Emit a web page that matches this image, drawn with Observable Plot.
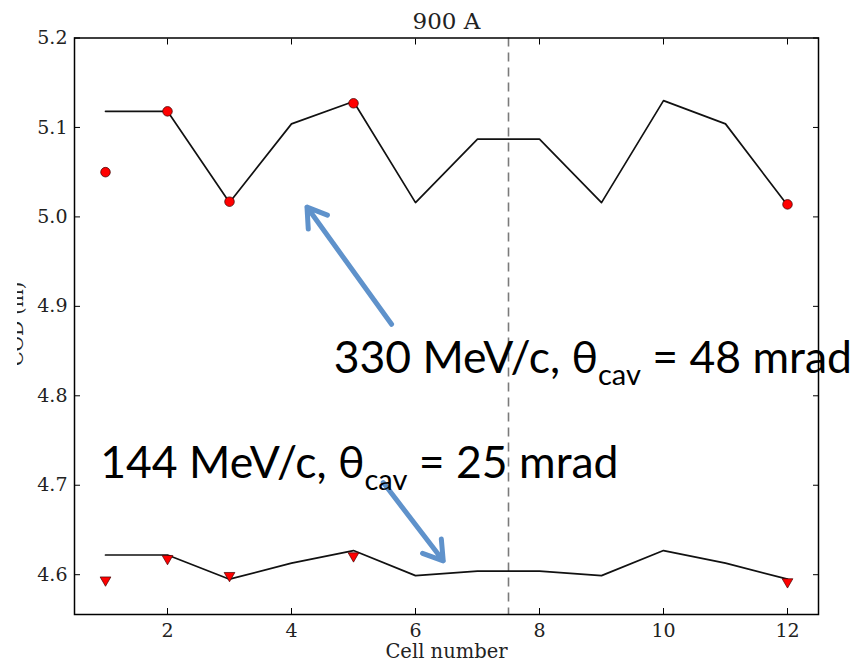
<!DOCTYPE html>
<html><head><meta charset="utf-8">
<script src="https://cdn.jsdelivr.net/npm/d3@7"></script>
<script src="https://cdn.jsdelivr.net/npm/@observablehq/plot@0.6"></script>
<style>
body{margin:0;background:#fff}
#chart{position:relative;width:860px;height:667px}
</style>
</head><body><div id="chart"></div>
<script>
// ---- data ----
const cells = [1, 2, 3, 4, 5, 6, 7, 8, 9, 10, 11, 12];
const codHighLine = [5.118, 5.118, 5.016, 5.104, 5.129, 5.016, 5.087, 5.087, 5.016, 5.130, 5.104, 5.013];
const codLowLine  = [4.622, 4.622, 4.595, 4.613, 4.627, 4.599, 4.604, 4.604, 4.599, 4.627, 4.613, 4.595];
const highPointCells  = [1, 2, 3, 5, 12];
const highPointValues = [5.050, 5.118, 5.017, 5.127, 5.014];
const lowPointCells   = [1, 2, 3, 5, 12];
const lowPointValues  = [4.594, 4.618, 4.599, 4.621, 4.592];
const splitCell = [7.5];
const xTicks = [2, 4, 6, 8, 10, 12];
const yTicks = [4.6, 4.7, 4.8, 4.9, 5.0, 5.1, 5.2];
const titleText = "900 A";
const xLabel = "Cell number";
const yLabel = "COD (m)";
// annotations (data coordinates)
const annotPre  = ["330 MeV/c, θ", "144 MeV/c, θ"];
const annotSub  = ["cav", "cav"];
const annotPost = [" = 48 mrad", " = 25 mrad"];
const annotCell = [4.68, 0.915];
const annotCod  = [4.825, 4.708];
const arrowFromCell = [5.614, 5.48];
const arrowFromCod  = [4.880, 4.703];
const arrowToCell   = [4.250, 6.447];
const arrowToCod    = [5.011, 4.6155];

// ---- tables built from the arrays ----
const hiLine = cells.map((c, i) => ({cell: c, cod: codHighLine[i]}));
const loLine = cells.map((c, i) => ({cell: c, cod: codLowLine[i]}));
const hiPts = highPointCells.map((c, i) => ({cell: c, cod: highPointValues[i]}));
const loPts = lowPointCells.map((c, i) => ({cell: c, cod: lowPointValues[i]}));
const annots = annotPre.map((p, i) => ({cell: annotCell[i], cod: annotCod[i], text: p + annotSub[i] + annotPost[i]}));
const arrows = arrowFromCell.map((c, i) => ({x1: c, y1: arrowFromCod[i], x2: arrowToCell[i], y2: arrowToCod[i]}));

const serif = "DejaVu Serif";
const plot = Plot.plot({
  width: 860, height: 667,
  marginTop: 37.5, marginRight: 42, marginBottom: 53, marginLeft: 74,
  x: {domain: [0.5, 12.5]},
  y: {domain: [4.5555, 5.2]},
  style: {fontFamily: serif, fontSize: "19px", color: "#222", background: "#fff", overflow: "visible"},
  marks: [
    Plot.ruleX(splitCell, {x: d => d, stroke: "#7a7a7a", strokeWidth: 1.6, strokeDasharray: "9,6"}),
    Plot.line(hiLine, {x: "cell", y: "cod", stroke: "#111", strokeWidth: 1.7}),
    Plot.line(loLine, {x: "cell", y: "cod", stroke: "#111", strokeWidth: 1.7}),
    Plot.dot(hiPts, {x: "cell", y: "cod", r: 4.8, fill: "#ff0000", stroke: "#330000", strokeWidth: 0.7}),
    Plot.dot(loPts, {x: "cell", y: "cod", symbol: "triangle", rotate: 180, r: 4.0, fill: "#ff0000", stroke: "#440000", strokeWidth: 0.7}),
    Plot.arrow(arrows, {x1: "x1", y1: "y1", x2: "x2", y2: "y2", stroke: "#5f92cb", strokeWidth: 5, headLength: 6.6, headAngle: 65}),
    Plot.text(annots, {x: "cell", y: "cod", text: "text", textAnchor: "start", lineAnchor: "bottom",
      fontFamily: "Lato", fontSize: 44.5, fill: "#000", className: "annot"}),
    Plot.frame({stroke: "#000", strokeWidth: 1.5}),
    Plot.axisX(xTicks, {tickSize: -6, tickPadding: 15, label: null, fontSize: 19, stroke: "#000", fill: "#222"}),
    Plot.axisX(xTicks, {anchor: "top", tickSize: -6, tickFormat: () => "", label: null, stroke: "#000"}),
    Plot.axisY(yTicks, {tickSize: -6, tickPadding: 13, label: null, tickFormat: d3.format(".1f"), fontSize: 19, stroke: "#000", fill: "#222"}),
    Plot.axisY(yTicks, {anchor: "right", tickSize: -6, tickFormat: () => "", label: null, stroke: "#000"}),
    Plot.text([titleText], {frameAnchor: "top", lineAnchor: "bottom", dy: -9, fontSize: 23, fill: "#222"}),
    Plot.text([xLabel], {frameAnchor: "bottom", lineAnchor: "bottom", dy: 43, fontSize: 19.5, fill: "#222"})
  ]
});

// subscripts for the annotation text
d3.select(plot).selectAll("g.annot text").each(function(_, i) {
  const t = d3.select(this);
  t.text(null);
  t.append("tspan").text(annotPre[i]);
  t.append("tspan").attr("font-size", 29).attr("dy", 12).text(annotSub[i]);
  t.append("tspan").attr("dy", -12).text(annotPost[i]);
});

// partially clipped y label
const svg = d3.select(plot);
svg.append("clipPath").attr("id", "ylabclip").append("rect").attr("x", 17).attr("y", 0).attr("width", 30).attr("height", 667);
svg.append("g").attr("clip-path", "url(#ylabclip)")
  .append("text")
  .attr("transform", "translate(23,324) rotate(-90)")
  .attr("text-anchor", "middle")
  .attr("font-family", serif).attr("font-size", 19).attr("fill", "#222")
  .text(yLabel);

document.getElementById("chart").appendChild(plot);
</script>
</body></html>
